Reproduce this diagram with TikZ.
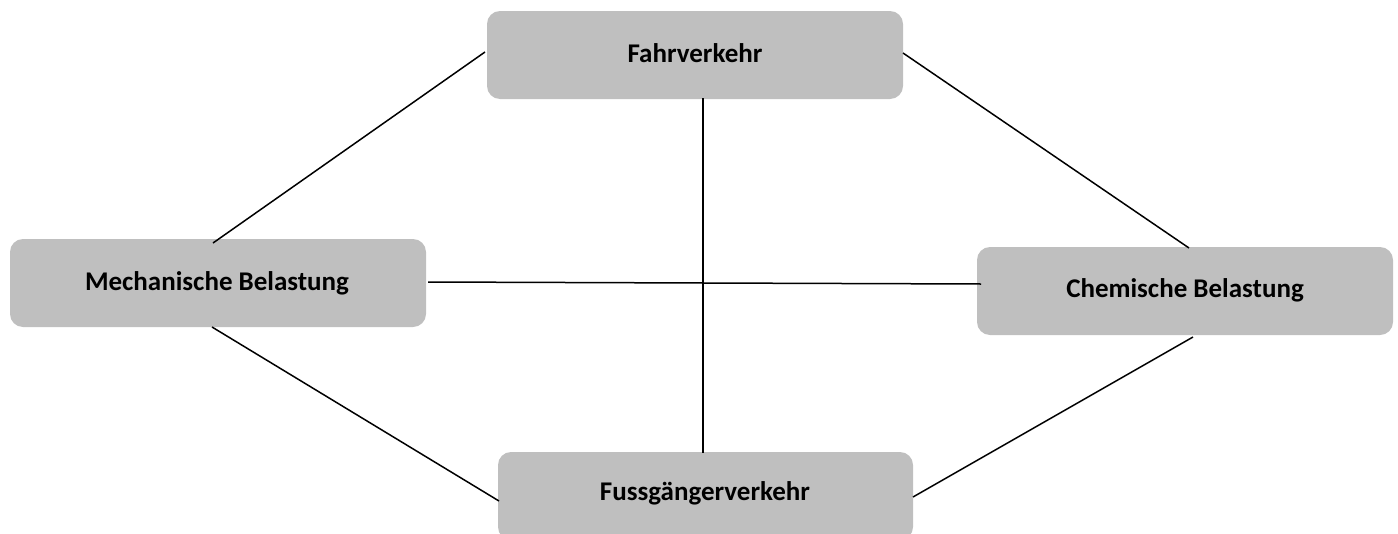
\documentclass[tikz,border=0pt]{standalone}
\usepackage{fontspec}
\setmainfont{Carlito}
\begin{document}
\begin{tikzpicture}[x=1pt,y=-1pt,
  box/.style={draw=none,fill=boxgray,rounded corners=13pt,inner sep=0pt},
  label/.style={font=\fontsize{27}{32}\selectfont\bfseries,inner sep=0pt},
  link/.style={draw=black,line width=1.5pt}]
\definecolor{boxgray}{HTML}{BFBFBF}
\useasboundingbox (0,0) rectangle (1398,533);
\clip (0,0) rectangle (1398,533);
\node[box,minimum width=416pt,minimum height=88pt] (fahr) at (695,55) {};
\node[label] (fahrt) at (695,53) {Fahrverkehr};
\node[box,minimum width=416pt,minimum height=88pt] (mech) at (218,283) {};
\node[label] (mecht) at (217,283) {Mechanische Belastung};
\node[box,minimum width=416pt,minimum height=88pt] (chem) at (1185,291) {};
\node[label] (chemt) at (1185,290) {Chemische Belastung};
\node[box,minimum width=415pt,minimum height=88pt] (fuss) at (705.5,496) {};
\node[label] (fusst) at (705,493) {Fussgängerverkehr};
% connector end points
\coordinate (fahrL) at (485,52);
\coordinate (fahrR) at (903,53);
\coordinate (fahrB) at (703,98);
\coordinate (mechT) at (213,243);
\coordinate (mechR) at (428,282);
\coordinate (mechB) at (212,327);
\coordinate (chemT) at (1189,248);
\coordinate (chemL) at (981,284);
\coordinate (chemB) at (1193,337);
\coordinate (fussT) at (703,453);
\coordinate (fussL) at (499,501);
\coordinate (fussR) at (913,497);
\draw[link] (fahrL) -- (mechT);
\draw[link] (fahrR) -- (chemT);
\draw[link] (fahrB) -- (fussT);
\draw[link] (mechR) -- (chemL);
\draw[link] (mechB) -- (fussL);
\draw[link] (chemB) -- (fussR);
\end{tikzpicture}
\end{document}
